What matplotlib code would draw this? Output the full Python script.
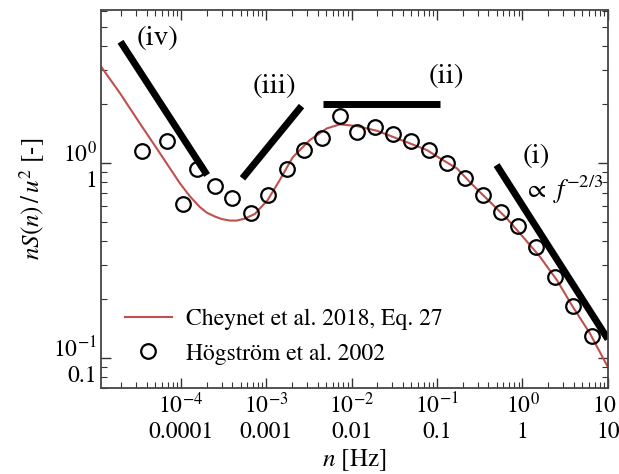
import numpy as np
import matplotlib
matplotlib.use("Agg")
import matplotlib.pyplot as plt
from matplotlib.ticker import FixedLocator, FixedFormatter, LogLocator, NullFormatter

plt.rcParams['font.family'] = ['STIXGeneral', 'DejaVu Serif']
plt.rcParams['mathtext.fontset'] = 'stix'

# Cheynet et al. 2018, Eq. 27
model_n = [1.18e-5, 1.93e-5, 3.31e-5, 5.68e-5, 9.73e-5, 1.27e-4, 1.67e-4, 2.01e-4,
           2.50e-4, 3.02e-4, 3.75e-4, 4.53e-4, 5.61e-4, 7.36e-4, 1.04e-3, 1.44e-3,
           2.05e-3, 3.24e-3, 5.13e-3, 7.28e-3, 1.15e-2, 1.97e-2, 3.03e-2, 4.80e-2,
           7.60e-2, 0.117, 0.171, 0.262, 0.415, 0.656, 1.01, 1.60, 2.53, 3.89,
           6.15, 9.86]
model_S = [3.10, 2.29, 1.60, 1.125, 0.789, 0.677, 0.595, 0.557,
           0.532, 0.516, 0.507, 0.507, 0.519, 0.548, 0.646, 0.818,
           1.073, 1.312, 1.506, 1.579, 1.548, 1.465, 1.364, 1.262,
           1.166, 1.036, 0.939, 0.771, 0.633, 0.520, 0.419, 0.331, 0.251, 0.183,
           0.134, 0.091]

# Hogstrom et al. 2002
obs_n = [3.47e-5, 6.98e-5, 1.06e-4, 1.55e-4, 2.52e-4, 3.95e-4, 6.61e-4, 1.05e-3,
         1.73e-3, 2.78e-3, 4.45e-3, 7.28e-3, 1.16e-2, 1.88e-2, 3.06e-2, 4.93e-2,
         8.07e-2, 0.130, 0.212, 0.341, 0.555, 0.891, 1.46, 2.39, 3.93, 6.44]
obs_S = [1.156, 1.292, 0.616, 0.932, 0.765, 0.664, 0.552, 0.683,
         0.932, 1.166, 1.339, 1.742, 1.437, 1.535, 1.403, 1.297,
         1.162, 1.006, 0.835, 0.685, 0.563, 0.475, 0.370, 0.261, 0.185, 0.129]

# slope guides: (n_start, n_end), (S_start, S_end)
guide_iv = ([1.97e-5, 2.03e-4], [4.19, 0.868])
guide_iii = ([5.27e-4, 2.59e-3], [0.835, 1.96])
guide_ii = ([4.63e-3, 0.108], [2.01, 2.01])
guide_i = ([0.498, 10.0], [0.977, 0.125])

xticks = [1e-4, 1e-3, 1e-2, 1e-1, 1, 10]
xticklabels = ['$10^{-4}$\n0.0001', '$10^{-3}$\n0.001', '$10^{-2}$\n0.01',
               '$10^{-1}$\n0.1', '$10^{0}$\n1', '$10^{1}$\n10']
yticks = [0.1, 1]
yticklabels = ['$10^{-1}$\n0.1', '$10^{0}$\n1']

fig = plt.figure(figsize=(6.19, 4.74), dpi=100)
ax = fig.add_axes([0.163, 0.181, 0.819, 0.798])

ax.plot(model_n, model_S, color='#c0504d', lw=1.5,
        label='Cheynet et al. 2018, Eq. 27')
ax.plot(obs_n, obs_S, 'o', mfc='none', mec='k', ms=10.5, mew=1.6,
        label='Högström et al. 2002')

for g in (guide_iv, guide_iii, guide_ii, guide_i):
    ax.plot(g[0], g[1], color='k', lw=5, solid_capstyle='butt')

ax.text(5.4e-5, 4.38, '(iv)', fontsize=21, ha='center', va='center')
ax.text(1.26e-3, 2.48, '(iii)', fontsize=21, ha='center', va='center')
ax.text(0.130, 2.79, '(ii)', fontsize=21, ha='center', va='center')
ax.text(1.44, 1.086, '(i)', fontsize=21, ha='center', va='center')
ax.text(1.05, 0.73, r'$\propto\ f^{-2/3}$', fontsize=19, ha='left', va='center')

ax.set_xscale('log')
ax.set_yscale('log')
ax.set_xlim(1.16e-5, 10)
ax.set_ylim(0.070, 6.1)

ax.xaxis.set_major_locator(FixedLocator(xticks))
ax.xaxis.set_major_formatter(FixedFormatter(xticklabels))
ax.xaxis.set_minor_locator(LogLocator(base=10, subs=np.arange(2, 10)))
ax.xaxis.set_minor_formatter(NullFormatter())
ax.yaxis.set_major_locator(FixedLocator(yticks))
ax.yaxis.set_major_formatter(FixedFormatter(yticklabels))
ax.yaxis.set_minor_locator(LogLocator(base=10, subs=np.arange(2, 10)))
ax.yaxis.set_minor_formatter(NullFormatter())

ax.tick_params(which='both', direction='in', top=True, right=True,
               colors='#333333', labelcolor='k', labelsize=17)
ax.tick_params(which='major', length=7, width=1, pad=3)
ax.tick_params(which='minor', length=4, width=0.8)
for s in ax.spines.values():
    s.set_color('#444444')
    s.set_linewidth(1.3)

ax.set_xlabel('$n$ [Hz]', fontsize=18, labelpad=3)
ax.set_ylabel('$nS(n)\\,/\\,u^2$ [-]', fontsize=18, labelpad=4)

ax.legend(loc='lower left', frameon=False, fontsize=17, handlelength=2.0,
          handletextpad=0.6, labelspacing=0.55, borderaxespad=0.6)

fig.savefig('out.png', dpi=100)
